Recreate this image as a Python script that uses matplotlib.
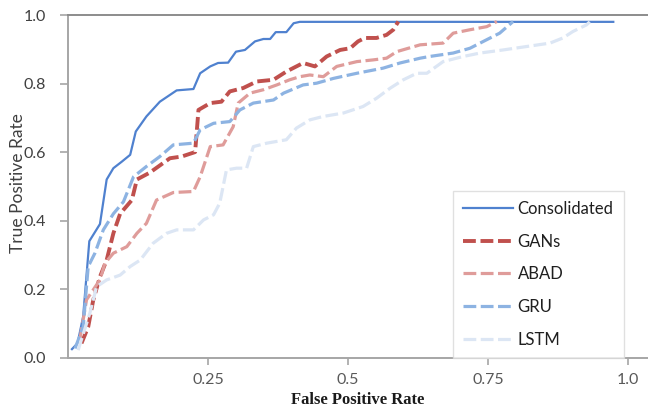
import matplotlib
matplotlib.use('Agg')
import matplotlib.pyplot as plt

# ROC points
cons_x = [0.007, 0.017, 0.027, 0.038, 0.057, 0.069, 0.081, 0.096, 0.111, 0.121, 0.14, 0.164, 0.194, 0.224,
          0.236, 0.254, 0.268, 0.286, 0.3, 0.316, 0.334, 0.349, 0.361, 0.371, 0.39, 0.403, 0.414, 0.974]
cons_y = [0.025, 0.042, 0.12, 0.34, 0.39, 0.52, 0.553, 0.572, 0.592, 0.66, 0.704, 0.747, 0.78, 0.784,
          0.83, 0.85, 0.86, 0.861, 0.893, 0.898, 0.923, 0.93, 0.93, 0.95, 0.95, 0.976, 0.98, 0.98]

gans_x = [0.024, 0.036, 0.045, 0.057, 0.069, 0.081, 0.093, 0.114, 0.123, 0.146, 0.182, 0.203, 0.227, 0.233,
          0.254, 0.274, 0.289, 0.313, 0.337, 0.367, 0.39, 0.42, 0.441, 0.462, 0.486, 0.504, 0.518, 0.53,
          0.551, 0.569, 0.581, 0.59]
gans_y = [0.042, 0.09, 0.168, 0.236, 0.285, 0.363, 0.42, 0.46, 0.52, 0.54, 0.582, 0.587, 0.60, 0.723,
          0.743, 0.747, 0.777, 0.787, 0.806, 0.811, 0.835, 0.86, 0.85, 0.879, 0.898, 0.903, 0.923, 0.933,
          0.933, 0.942, 0.957, 0.981]

abad_x = [0.021, 0.033, 0.045, 0.057, 0.066, 0.081, 0.105, 0.123, 0.14, 0.158, 0.188, 0.224, 0.236, 0.254,
          0.277, 0.295, 0.304, 0.325, 0.349, 0.373, 0.396, 0.414, 0.432, 0.456, 0.468, 0.48, 0.516, 0.545,
          0.569, 0.587, 0.629, 0.67, 0.688, 0.718, 0.748, 0.766]
abad_y = [0.052, 0.169, 0.198, 0.227, 0.276, 0.305, 0.324, 0.363, 0.392, 0.46, 0.482, 0.485, 0.528, 0.616,
          0.621, 0.674, 0.743, 0.772, 0.782, 0.796, 0.811, 0.82, 0.825, 0.82, 0.835, 0.85, 0.864, 0.869,
          0.874, 0.893, 0.913, 0.918, 0.947, 0.957, 0.966, 0.981]

gru_x = [0.0125, 0.027, 0.036, 0.048, 0.063, 0.081, 0.099, 0.117, 0.14, 0.164, 0.188, 0.224, 0.236, 0.26,
         0.289, 0.307, 0.331, 0.367, 0.385, 0.42, 0.444, 0.474, 0.516, 0.563, 0.593, 0.629, 0.646, 0.688,
         0.718, 0.748, 0.771, 0.795]
gru_y = [0.027, 0.09, 0.266, 0.305, 0.373, 0.42, 0.455, 0.528, 0.558, 0.587, 0.621, 0.626, 0.665, 0.684,
         0.689, 0.723, 0.743, 0.752, 0.772, 0.796, 0.801, 0.815, 0.83, 0.845, 0.86, 0.874, 0.879, 0.889,
         0.903, 0.928, 0.947, 0.981]

lstm_x = [0.018, 0.039, 0.051, 0.069, 0.093, 0.111, 0.129, 0.152, 0.176, 0.194, 0.224, 0.242, 0.26, 0.271,
          0.283, 0.301, 0.319, 0.331, 0.355, 0.39, 0.408, 0.432, 0.456, 0.492, 0.527, 0.551, 0.575, 0.599,
          0.623, 0.641, 0.67, 0.706, 0.736, 0.777, 0.819, 0.861, 0.884, 0.902, 0.926, 0.932]
lstm_y = [0.022, 0.13, 0.207, 0.227, 0.241, 0.266, 0.285, 0.334, 0.363, 0.373, 0.373, 0.402, 0.417, 0.451,
          0.548, 0.553, 0.553, 0.616, 0.626, 0.636, 0.67, 0.694, 0.704, 0.714, 0.733, 0.757, 0.786, 0.811,
          0.83, 0.83, 0.864, 0.879, 0.889, 0.898, 0.908, 0.918, 0.933, 0.952, 0.971, 0.98]

xticks = [0.25, 0.5, 0.75, 1.0]
xtick_labels = ['0.25', '0.5', '0.75', '1.0']
yticks = [0.0, 0.2, 0.4, 0.6, 0.8, 1.0]
ytick_labels = ['0.0', '0.2', '0.4', '0.6', '0.8', '1.0']

sans = ['Lato', 'DejaVu Sans']

fig = plt.figure(figsize=(6.48, 4.11), dpi=100)
ax = fig.add_axes([0.105, 0.1297, 0.895, 0.8338])

ax.plot(cons_x, cons_y, color='#4f81cf', lw=1.6, label='Consolidated')
ax.plot(gans_x, gans_y, color='#c0504d', lw=2.8, dashes=(3.3, 1.2), label='GANs')
ax.plot(abad_x, abad_y, color='#df9c9a', lw=2.3, dashes=(4.0, 1.4), label='ABAD')
ax.plot(gru_x, gru_y, color='#8db3e2', lw=2.3, dashes=(4.0, 1.4), label='GRU')
ax.plot(lstm_x, lstm_y, color='#dce6f4', lw=2.3, dashes=(4.0, 1.4), label='LSTM')

ax.set_xlim(0, 1.036)
ax.set_ylim(0, 1.0)
ax.set_xticks(xticks)
ax.set_xticklabels(xtick_labels, family=sans, fontsize=11.5, color='#595959')
ax.set_yticks(yticks)
ax.set_yticklabels(ytick_labels, family=sans, fontsize=11.5, color='#404040')
ax.tick_params(axis='x', length=5, width=1.2, color='#a6a6a6', pad=6)
ax.tick_params(axis='y', length=6, width=1.2, color='#a6a6a6', pad=10)

for s in ['left', 'bottom', 'top']:
    ax.spines[s].set_color('#a6a6a6')
    ax.spines[s].set_linewidth(1.4)
ax.spines['top'].set_color('#8c8c8c')
ax.spines['right'].set_visible(False)

ax.set_xlabel('False Positive Rate', family='Liberation Serif', fontsize=12, fontweight='bold', color='#1a1a1a')
ax.xaxis.set_label_coords(0.5, -0.10)
ax.set_ylabel('True Positive Rate', family=sans, fontsize=12.5, color='#404040')
ax.yaxis.set_label_coords(-0.073, 0.51)

leg = ax.legend(loc='upper left', bbox_to_anchor=(0.6986, 0.5353), bbox_transform=fig.transFigure,
                prop={'family': sans, 'size': 12}, frameon=True, fancybox=False,
                handlelength=3.0, handletextpad=0.3, labelspacing=1.0, borderpad=0.6,
                borderaxespad=0)
leg.get_frame().set_edgecolor('#d9d9d9')
leg.get_frame().set_linewidth(1.0)
for t in leg.get_texts():
    t.set_color('#1f1f1f')

fig.savefig('out.png', dpi=100)
